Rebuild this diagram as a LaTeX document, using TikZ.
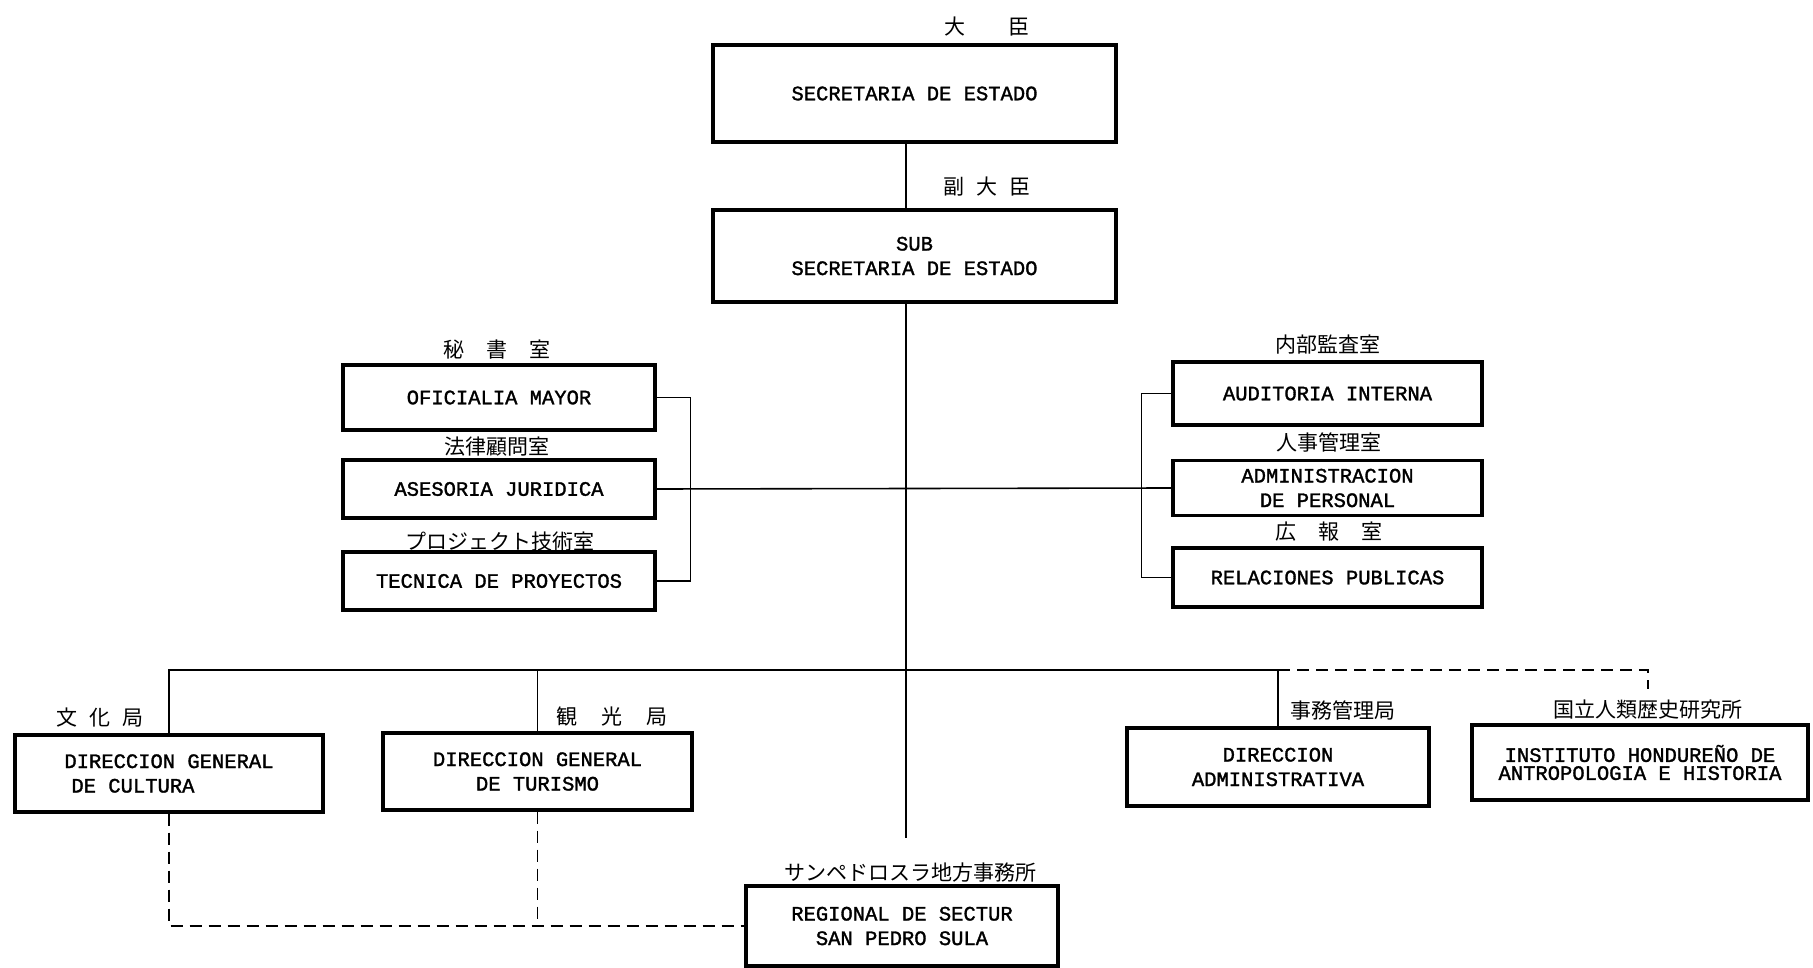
\documentclass[tikz,border=0pt]{standalone}
\usepackage{fontspec}
\newfontfamily\latfam{Liberation Mono}[FakeBold=1.5]
\newfontfamily\jpfam{Noto Sans CJK JP}
\newcommand\boxfont{\latfam\fontsize{20.5}{24.5}\selectfont}
\newcommand\tightfont{\latfam\fontsize{20.5}{18}\selectfont}
\newcommand\jpfont{\jpfam\fontsize{21}{24}\selectfont}
\begin{document}
\begin{tikzpicture}[x=1pt,y=-1pt,
  box/.style={draw,line width=3.2pt,inner sep=0pt,align=center,font=\boxfont},
  lbl/.style={font=\jpfont,inner sep=0pt},
  conn/.style={line width=1.6pt},
  dconn/.style={line width=1.6pt,dash pattern=on 12pt off 7pt}]
\useasboundingbox (0,0) rectangle (1813,968);

% top
\node[box,minimum width=403pt,minimum height=97pt] (top) at (914.5,93.5) {SECRETARIA DE ESTADO};
\node[lbl] (topl) at (987,27) {大\hspace{43pt}臣};
\node[box,minimum width=403pt,minimum height=92pt] (sub) at (914.5,256) {SUB\\SECRETARIA DE ESTADO};
\node[lbl] (subl) at (987,187) {副\hspace{12pt}大\hspace{12pt}臣};

% left staff
\node[box,minimum width=312pt,minimum height=65pt] (ofi) at (499,397.5) {OFICIALIA MAYOR};
\node[lbl] (ofil) at (497,350) {秘\hspace{22pt}書\hspace{22pt}室};
\node[box,minimum width=312pt,minimum height=58pt] (ase) at (499,489) {ASESORIA JURIDICA};
\node[lbl] (asel) at (497,447) {法律顧問室};
\node[box,minimum width=312pt,minimum height=58pt] (tec) at (499,581) {TECNICA DE PROYECTOS};
\node[lbl] (tecl) at (500,542) {プロジェクト技術室};

% right staff
\node[box,minimum width=309pt,minimum height=63pt] (aud) at (1327.5,393.5) {AUDITORIA INTERNA};
\node[lbl] (audl) at (1328,345) {内部監査室};
\node[box,minimum width=309pt,minimum height=55pt] (adm) at (1327.5,488) {ADMINISTRACION\\DE PERSONAL};
\node[lbl] (adml) at (1329,442) {人事管理室};
\node[box,minimum width=309pt,minimum height=59pt] (rel) at (1327.5,577.5) {RELACIONES PUBLICAS};
\node[lbl] (rell) at (1329,532) {広\hspace{22pt}報\hspace{22pt}室};

% directorates
\node[box,minimum width=308pt,minimum height=77pt,align=left] (cul) at (169,773.5) {DIRECCION GENERAL\\\hspace{7pt}DE CULTURA};
\node[lbl] (cull) at (100,718) {文\hspace{12pt}化\hspace{12pt}局};
\node[box,minimum width=309pt,minimum height=77pt] (tur) at (537.5,771.5) {DIRECCION GENERAL\\DE TURISMO};
\node[lbl] (turl) at (612,717) {観\hspace{24pt}光\hspace{24pt}局};
\node[box,minimum width=302pt,minimum height=78pt] (dir) at (1278,767) {DIRECCION\\ADMINISTRATIVA};
\node[lbl] (dirl) at (1343,710) {事務管理局};
\node[box,minimum width=336pt,minimum height=75pt,font=\tightfont] (ins) at (1640,762.5) {INSTITUTO HONDUREÑO DE\\ANTROPOLOGIA E HISTORIA};
\node[lbl] (insl) at (1648,710) {国立人類歴史研究所};
\node[box,minimum width=312pt,minimum height=80pt] (reg) at (902,926) {REGIONAL DE SECTUR\\SAN PEDRO SULA};
\node[lbl] (regl) at (910,873) {サンペドロスラ地方事務所};

% connectors
\coordinate (spine) at (906,0);
\coordinate (spineEnd) at (906,838);
\coordinate (bus) at (0,670);
\draw[conn] (top.south -| spine) -- (sub.north -| spine);
\draw[conn] (sub.south -| spine) -- (spineEnd);
\draw[conn] (ase.east) -- (adm.west);
\draw[conn] (ofi.east) -- ++(34,0) |- (tec.east);
\draw[conn] (aud.west) -- ++(-30,0) |- (rel.west);
\draw[conn] (cul.north) -- (cul.north |- bus) -- (dir.north |- bus) -- (dir.north);
\draw[conn] (tur.north) -- (tur.north |- bus);
\draw[dconn,shorten >=11pt] (dir.north |- bus) -| (insl.north);
\draw[dconn] (cul.south) |- (reg.west);
\draw[dconn] (tur.south) -- (tur.south |- reg.west);
\end{tikzpicture}
\end{document}
